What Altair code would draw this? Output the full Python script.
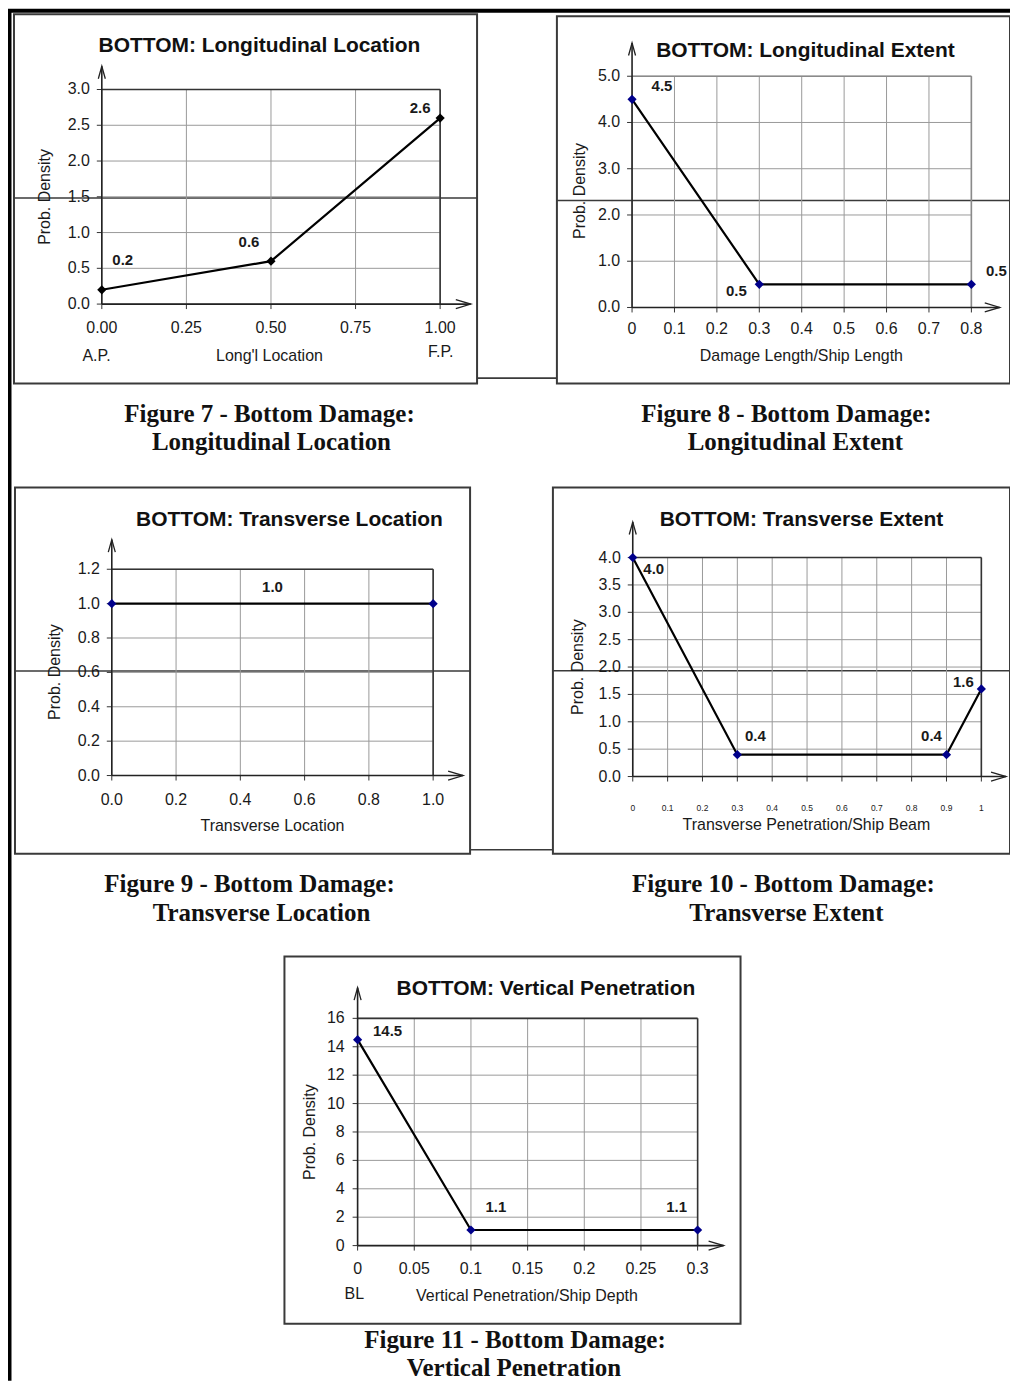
import altair as alt
import pandas as pd

# ---------------- data ----------------
# Figure 7 - Longitudinal Location
f7_x = [0.0, 0.5, 1.0]
f7_y = [0.2, 0.6, 2.6]
f7_vlbl = ["0.2", "0.6", "2.6"]
f7_xt = [0.0, 0.25, 0.5, 0.75, 1.0]
f7_xtl = ["0.00", "0.25", "0.50", "0.75", "1.00"]
f7_yt = [0.0, 0.5, 1.0, 1.5, 2.0, 2.5, 3.0]
f7_ytl = ["0.0", "0.5", "1.0", "1.5", "2.0", "2.5", "3.0"]

# Figure 8 - Longitudinal Extent
f8_x = [0.0, 0.3, 0.8]
f8_y = [4.5, 0.5, 0.5]
f8_vlbl = ["4.5", "0.5", "0.5"]
f8_xt = [0.0, 0.1, 0.2, 0.3, 0.4, 0.5, 0.6, 0.7, 0.8]
f8_xtl = ["0", "0.1", "0.2", "0.3", "0.4", "0.5", "0.6", "0.7", "0.8"]
f8_yt = [0.0, 1.0, 2.0, 3.0, 4.0, 5.0]
f8_ytl = ["0.0", "1.0", "2.0", "3.0", "4.0", "5.0"]

# Figure 9 - Transverse Location
f9_x = [0.0, 1.0]
f9_y = [1.0, 1.0]
f9_vlbl = ["1.0"]
f9_xt = [0.0, 0.2, 0.4, 0.6, 0.8, 1.0]
f9_xtl = ["0.0", "0.2", "0.4", "0.6", "0.8", "1.0"]
f9_yt = [0.0, 0.2, 0.4, 0.6, 0.8, 1.0, 1.2]
f9_ytl = ["0.0", "0.2", "0.4", "0.6", "0.8", "1.0", "1.2"]

# Figure 10 - Transverse Extent
f10_x = [0.0, 0.3, 0.9, 1.0]
f10_y = [4.0, 0.4, 0.4, 1.6]
f10_vlbl = ["4.0", "0.4", "0.4", "1.6"]
f10_xt = [0.0, 0.1, 0.2, 0.3, 0.4, 0.5, 0.6, 0.7, 0.8, 0.9, 1.0]
f10_xtl = ["0", "0.1", "0.2", "0.3", "0.4", "0.5", "0.6", "0.7", "0.8", "0.9", "1"]
f10_yt = [0.0, 0.5, 1.0, 1.5, 2.0, 2.5, 3.0, 3.5, 4.0]
f10_ytl = ["0.0", "0.5", "1.0", "1.5", "2.0", "2.5", "3.0", "3.5", "4.0"]

# Figure 11 - Vertical Penetration
f11_x = [0.0, 0.1, 0.3]
f11_y = [14.5, 1.1, 1.1]
f11_vlbl = ["14.5", "1.1", "1.1"]
f11_xt = [0.0, 0.05, 0.1, 0.15, 0.2, 0.25, 0.3]
f11_xtl = ["0", "0.05", "0.1", "0.15", "0.2", "0.25", "0.3"]
f11_yt = [0, 2, 4, 6, 8, 10, 12, 14, 16]
f11_ytl = ["0", "2", "4", "6", "8", "10", "12", "14", "16"]

titles = ["BOTTOM: Longitudinal Location", "BOTTOM: Longitudinal Extent",
          "BOTTOM: Transverse Location", "BOTTOM: Transverse Extent",
          "BOTTOM: Vertical Penetration"]
xtitles = ["Long'l Location", "Damage Length/Ship Length", "Transverse Location",
           "Transverse Penetration/Ship Beam", "Vertical Penetration/Ship Depth"]
ytitle = "Prob. Density"
extra_lbls = ["A.P.", "F.P.", "BL"]
captions = [("Figure 7 - Bottom Damage:", "Longitudinal Location"),
            ("Figure 8 - Bottom Damage:", "Longitudinal Extent"),
            ("Figure 9 - Bottom Damage:", "Transverse Location"),
            ("Figure 10 - Bottom Damage:", "Transverse Extent"),
            ("Figure 11 - Bottom Damage:", "Vertical Penetration")]

# ---------------- layout / style (page pixel coordinates) ----------------
OX, OY = 8, 8          # page margin
W, H = 1004, 1374      # canvas size
SANS = "Liberation Sans"
SERIF = "Liberation Serif"
TXT = "#1a1a1a"
GRID = "#9a9a9a"
NAVY = "#00008B"

LAYOUT = [
    dict(xpx=(102, 441), ypx=(303.3, 88.3), tip=(471.7, 65), ydx=-12, xdy=23.5, xfs=16,
         mk="#000000", border="#333333", voff=[(21, -30), (-22, -19), (-20, -10)]),
    dict(xpx=(633.3, 973.3), ypx=(306.7, 75), tip=(1001.7, 41.7), ydx=-12, xdy=21.5, xfs=16,
         mk=NAVY, border="#8a8a8a", voff=[(30, -13), (-23, 7), (25, -13)]),
    dict(xpx=(112, 434), ypx=(775.7, 569), tip=(464, 539.3), ydx=-12, xdy=24.5, xfs=16,
         mk=NAVY, border="#333333", voff=[(161, -17)]),
    dict(xpx=(634, 983.3), ypx=(776.7, 557.3), tip=(1008, 521.7), ydx=-12, xdy=31.5, xfs=8.5,
         mk=NAVY, border="#333333", voff=[(21, 11), (18, -19), (-15, -19), (-18, -7)]),
    dict(xpx=(358.3, 699), ypx=(1246.7, 1019), tip=(725, 988.3), ydx=-13, xdy=23.5, xfs=16,
         mk=NAVY, border="#333333", voff=[(30, -9), (25, -23), (-21, -23)]),
]

FRAMES = [(14, 13, 478, 383), (558, 15, 1012, 383), (15, 487, 471, 854),
          (554, 487, 1012, 854), (285, 957, 742, 1325)]
CONNECT = [(478, 558, 377.5), (471, 554, 850)]
SCANLINES = [(14, 478, 197), (558, 1012, 199.5), (15, 471, 671), (554, 1012, 670.7)]
TITLE_POS = [(260, 45), (807, 50), (290, 520), (803, 520), (547, 990)]
XTITLE_POS = [(270, 355), (803, 355), (273, 826.7), (808, 825.7), (528, 1297)]
YTITLE_POS = [(45, 196), (581, 190), (55.5, 672), (579, 667), (311, 1133)]
EXTRA_POS = [(96.7, 355), (441.7, 351.7), (355, 1295)]
CAPTION_POS = [((270, 413), (272, 442)), ((788, 413), (797, 442)),
               ((250, 884), (262, 913)), ((785, 884), (788, 913)),
               ((516, 1341), (515, 1369.5))]

UP_ARROW = "M -0.28 1 L 0 0 L 0.28 1"
RIGHT_ARROW = "M -1 -0.3 L 0 0 L -1 0.3"

PANELS = [
    (f7_x, f7_y, f7_vlbl, f7_xt, f7_xtl, f7_yt, f7_ytl),
    (f8_x, f8_y, f8_vlbl, f8_xt, f8_xtl, f8_yt, f8_ytl),
    (f9_x, f9_y, f9_vlbl, f9_xt, f9_xtl, f9_yt, f9_ytl),
    (f10_x, f10_y, f10_vlbl, f10_xt, f10_xtl, f10_yt, f10_ytl),
    (f11_x, f11_y, f11_vlbl, f11_xt, f11_xtl, f11_yt, f11_ytl),
]


def lin(dom, rng):
    return alt.Scale(domain=list(dom), range=list(rng), nice=False, zero=False)


def panel_layers(xv, yv, vlbl, xt, xtl, yt, ytl, L):
    xdom = (xt[0], xt[-1])
    ydom = (yt[0], yt[-1])
    xs = lin(xdom, (L["xpx"][0] - OX, L["xpx"][1] - OX))
    ys = lin(ydom, (L["ypx"][0] - OY, L["ypx"][1] - OY))

    def X(f):
        return alt.X(f, type="quantitative", scale=xs, axis=None)

    def Y(f):
        return alt.Y(f, type="quantitative", scale=ys, axis=None)

    # arrow tips expressed in data units
    xtip = xdom[0] + (L["tip"][0] - L["xpx"][0]) / (L["xpx"][1] - L["xpx"][0]) * (xdom[1] - xdom[0])
    ytip = ydom[0] + (L["ypx"][0] - L["tip"][1]) / (L["ypx"][0] - L["ypx"][1]) * (ydom[1] - ydom[0])

    out = []
    vg = pd.DataFrame({"x": xt, "y0": ydom[0], "y1": ydom[1]})
    hg = pd.DataFrame({"y": yt, "x0": xdom[0], "x1": xdom[1]})
    out.append(alt.Chart(vg).mark_rule(color=GRID, strokeWidth=1).encode(x=X("x"), y=Y("y0"), y2="y1"))
    out.append(alt.Chart(hg).mark_rule(color=GRID, strokeWidth=1).encode(y=Y("y"), x=X("x0"), x2="x1"))
    # ticks
    out.append(alt.Chart(hg).mark_rule(color="#333333", strokeWidth=1, x2Offset=-5)
               .encode(y=Y("y"), x=X("x0"), x2="x0"))
    out.append(alt.Chart(vg).mark_rule(color="#333333", strokeWidth=1, y2Offset=5)
               .encode(x=X("x"), y=Y("y0"), y2="y0"))
    # plot border (top, right)
    top = pd.DataFrame({"y": [ydom[1]], "x0": [xdom[0]], "x1": [xdom[1]]})
    right = pd.DataFrame({"x": [xdom[1]], "y0": [ydom[0]], "y1": [ydom[1]]})
    out.append(alt.Chart(top).mark_rule(color=L["border"], strokeWidth=1.6).encode(y=Y("y"), x=X("x0"), x2="x1"))
    out.append(alt.Chart(right).mark_rule(color=L["border"], strokeWidth=1.6).encode(x=X("x"), y=Y("y0"), y2="y1"))
    # axes with arrows
    yax = pd.DataFrame({"x": [xdom[0]], "y0": [ydom[0]], "y1": [ytip]})
    xax = pd.DataFrame({"y": [ydom[0]], "x0": [xdom[0]], "x1": [xtip]})
    out.append(alt.Chart(yax).mark_rule(color="#222222", strokeWidth=1.6).encode(x=X("x"), y=Y("y0"), y2="y1"))
    out.append(alt.Chart(xax).mark_rule(color="#222222", strokeWidth=1.6).encode(y=Y("y"), x=X("x0"), x2="x1"))
    out.append(alt.Chart(yax).mark_point(shape=UP_ARROW, filled=False, color="#222222", opacity=1,
                                         strokeWidth=1.3, size=625).encode(x=X("x"), y=Y("y1")))
    out.append(alt.Chart(xax).mark_point(shape=RIGHT_ARROW, filled=False, color="#222222", opacity=1,
                                         strokeWidth=1.3, size=900).encode(x=X("x1"), y=Y("y")))
    # tick labels
    ytl_df = pd.DataFrame({"y": yt, "x": xdom[0], "t": ytl})
    xtl_df = pd.DataFrame({"x": xt, "y": ydom[0], "t": xtl})
    out.append(alt.Chart(ytl_df).mark_text(align="right", baseline="middle", dx=L["ydx"], font=SANS,
                                           fontSize=16, color=TXT)
               .encode(x=X("x"), y=Y("y"), text="t:N"))
    out.append(alt.Chart(xtl_df).mark_text(align="center", baseline="middle", dy=L["xdy"], font=SANS,
                                           fontSize=L["xfs"], color=TXT)
               .encode(x=X("x"), y=Y("y"), text="t:N"))
    # data line + markers
    d = pd.DataFrame({"x": xv, "y": yv})
    out.append(alt.Chart(d).mark_line(color="#000000", strokeWidth=2.2).encode(x=X("x"), y=Y("y")))
    out.append(alt.Chart(d).mark_point(shape="diamond", filled=True, size=85, opacity=1, color=L["mk"])
               .encode(x=X("x"), y=Y("y")))
    # value labels
    for i, lab in enumerate(vlbl):
        dx, dy = L["voff"][i]
        di = pd.DataFrame({"x": [xv[i]], "y": [yv[i]], "t": [lab]})
        out.append(alt.Chart(di).mark_text(align="center", baseline="middle", dx=dx, dy=dy, font=SANS,
                                           fontSize=15, fontWeight="bold", color=TXT)
                   .encode(x=X("x"), y=Y("y"), text="t:N"))
    return out


PXS = lin((OX, OX + W), (0, W))
PYS = lin((OY, OY + H), (0, H))


def PX(f):
    return alt.X(f, type="quantitative", scale=PXS, axis=None)


def PY(f):
    return alt.Y(f, type="quantitative", scale=PYS, axis=None)


def page_text(texts, pos, **mk):
    df = pd.DataFrame({"x": [p[0] for p in pos], "y": [p[1] for p in pos], "t": texts})
    return alt.Chart(df).mark_text(align="center", baseline="middle", **mk).encode(
        x=PX("x"), y=PY("y"), text="t:N")


layers = []
# page decorations: outer black border, frames, connectors, scan lines
border_v = pd.DataFrame({"x": [9.5], "y0": [OY], "y1": [OY + H]})
border_h = pd.DataFrame({"y": [9.5], "x0": [OX], "x1": [OX + W]})
layers.append(alt.Chart(border_v).mark_rule(color="#000000", strokeWidth=4).encode(x=PX("x"), y=PY("y0"), y2="y1"))
layers.append(alt.Chart(border_h).mark_rule(color="#000000", strokeWidth=4).encode(y=PY("y"), x=PX("x0"), x2="x1"))
fr = pd.DataFrame(FRAMES, columns=["x0", "y0", "x1", "y1"])
layers.append(alt.Chart(fr).mark_rect(fillOpacity=0, stroke="#3a3a3a", strokeWidth=2)
              .encode(x=PX("x0"), x2="x1", y=PY("y0"), y2="y1"))
cn = pd.DataFrame(CONNECT + SCANLINES, columns=["x0", "x1", "y"])
layers.append(alt.Chart(cn).mark_rule(color="#3a3a3a", strokeWidth=1.6).encode(y=PY("y"), x=PX("x0"), x2="x1"))

for data, L in zip(PANELS, LAYOUT):
    layers.extend(panel_layers(*data, L))

layers.append(page_text(titles, TITLE_POS, font=SANS, fontSize=21, fontWeight="bold", color="#111111"))
layers.append(page_text(xtitles, XTITLE_POS, font=SANS, fontSize=16, color=TXT))
layers.append(page_text(extra_lbls, EXTRA_POS, font=SANS, fontSize=16, color=TXT))
layers.append(page_text([ytitle] * 5, YTITLE_POS, font=SANS, fontSize=16, color=TXT, angle=270))
layers.append(page_text([c[0] for c in captions], [p[0] for p in CAPTION_POS],
                        font=SERIF, fontSize=25, fontWeight="bold", color="#111111"))
layers.append(page_text([c[1] for c in captions], [p[1] for p in CAPTION_POS],
                        font=SERIF, fontSize=25, fontWeight="bold", color="#111111"))

chart = (alt.layer(*layers)
         .resolve_scale(x="independent", y="independent")
         .properties(width=W, height=H, padding=0, autosize=alt.AutoSizeParams(type="none"),
                     background="white")
         .configure_view(stroke=None))

chart.save("out.html", embed_options={"renderer": "svg", "actions": False})
